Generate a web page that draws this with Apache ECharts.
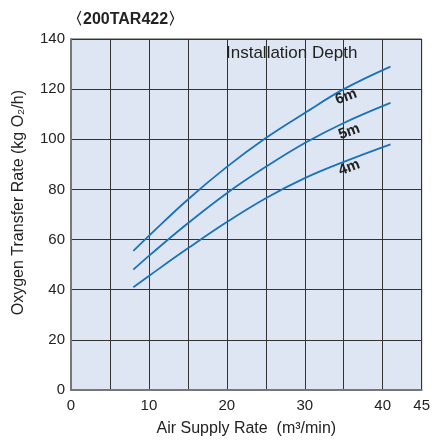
<!DOCTYPE html>
<html><head><meta charset="utf-8">
<script src="https://cdn.jsdelivr.net/npm/echarts@6/dist/echarts.min.js"></script>
<style>html,body{margin:0;padding:0;background:#fff}#c{width:433px;height:442px}</style>
</head><body><div id="c"></div>
<script>
const airRate = [8, 10, 15, 20, 25, 30, 35, 41];
const depth6m = [55.5, 61.5, 76, 89, 100.5, 110.5, 120, 129];
const depth5m = [48, 53.5, 66.5, 78.5, 89, 98.5, 106.5, 114.5];
const depth4m = [41, 45.5, 56.5, 67, 76.5, 84.5, 91, 98];
const seriesNames = ['6m', '5m', '4m'];
const labelPos = [[35.3, 117], [35.7, 103], [35.7, 88.7]];
const xTickLabels = [0, 10, 20, 30, 40, 45];

const chart = echarts.init(document.getElementById('c'));
const font = 'Liberation Sans, Arial, sans-serif';
function mk(name, vals, lp) {
  return {
    name: name, type: 'line', showSymbol: false, smooth: 0.4,
    data: airRate.map((x, i) => [x, vals[i]]),
    lineStyle: { color: '#1a72b8', width: 1.8 },
    itemStyle: { color: '#1a72b8' },
    markPoint: {
      symbol: 'circle', symbolSize: 0,
      data: [{ coord: lp }],
      label: { show: true, formatter: name, rotate: 20, color: '#222', fontWeight: 'bold', fontSize: 15, fontFamily: font }
    }
  };
}
chart.setOption({
  animation: false,
  title: [{ text: '〈200TAR422〉', left: 62, top: 7, textStyle: { fontSize: 16, fontWeight: 'bold', color: '#222', fontFamily: font } },
          { text: 'Installation Depth', left: 221, top: 40, textStyle: { fontSize: 17, fontWeight: 'normal', color: '#222', fontFamily: font } }],
  graphic: [{ type: 'text', left: 11, top: 90, rotation: Math.PI / 2,
    style: { text: 'Oxygen Transfer Rate (kg O₂/h)', font: '16px Liberation Sans, Arial, sans-serif', fill: '#222' } }],
  grid: { left: 71, right: 8, top: 39, bottom: 51, show: true, backgroundColor: '#dfe6f3', borderColor: '#444', borderWidth: 1 },
  xAxis: {
    type: 'value', min: 0, max: 45, interval: 5,
    name: 'Air Supply Rate  (m³/min)', nameLocation: 'middle', nameGap: 31,
    nameTextStyle: { fontSize: 16, color: '#222', fontFamily: font },
    axisLine: { lineStyle: { color: '#777', width: 2 } },
    axisTick: { show: false },
    axisLabel: { fontSize: 15, color: '#222', fontFamily: font, margin: 8,
      formatter: v => xTickLabels.indexOf(v) >= 0 ? String(v) : '' },
    splitLine: { show: true, lineStyle: { color: '#333', width: 1 } }
  },
  yAxis: {
    type: 'value', min: 0, max: 140, interval: 20,
    axisLine: { show: true, lineStyle: { color: '#777', width: 2 } },
    axisTick: { show: false },
    axisLabel: { fontSize: 15, color: '#222', fontFamily: font, margin: 6 },
    splitLine: { show: true, lineStyle: { color: '#333', width: 1 } }
  },
  series: [mk(seriesNames[0], depth6m, labelPos[0]), mk(seriesNames[1], depth5m, labelPos[1]), mk(seriesNames[2], depth4m, labelPos[2])]
});
</script></body></html>
